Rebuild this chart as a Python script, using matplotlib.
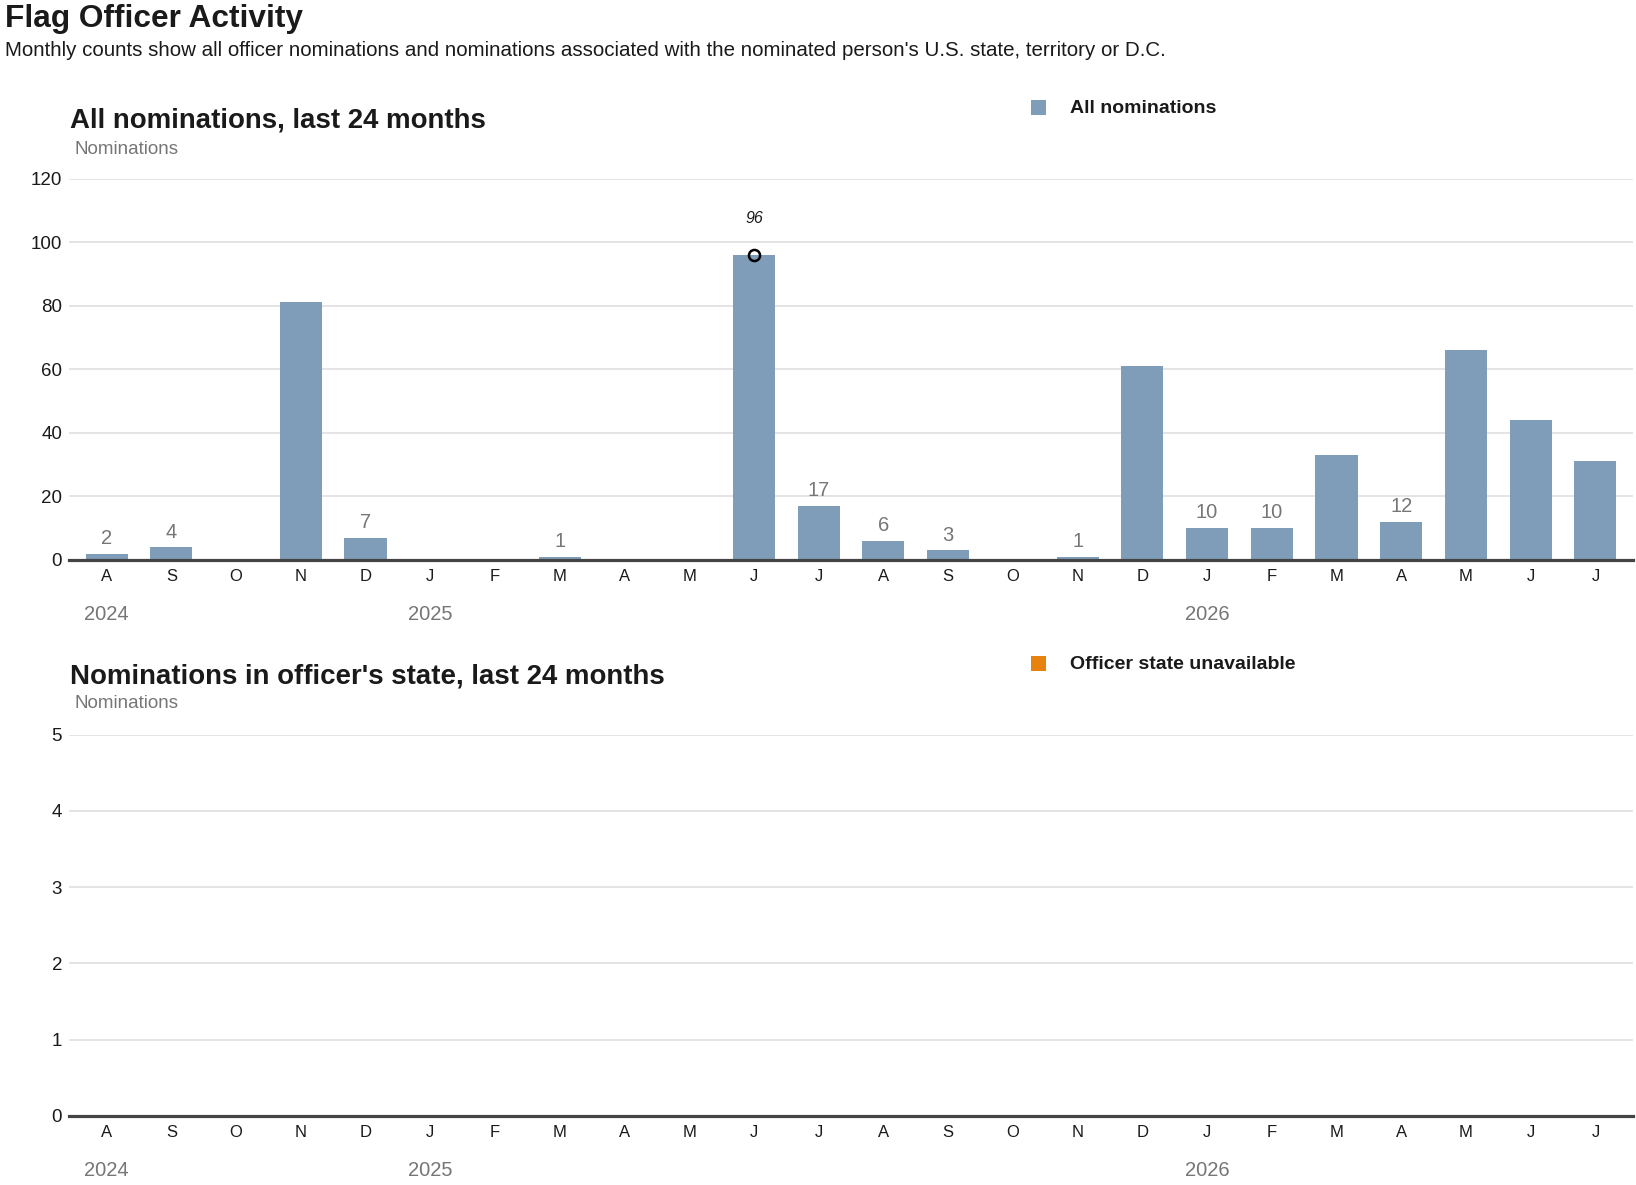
import matplotlib
matplotlib.use("Agg")
import matplotlib.pyplot as plt
from matplotlib.patches import Rectangle
from matplotlib import font_manager as fm

names = {f.name for f in fm.fontManager.ttflist}
NARROW = 'Liberation Sans Narrow' if 'Liberation Sans Narrow' in names else 'Liberation Sans'
REG = 'Liberation Sans'

months = ["A", "S", "O", "N", "D", "J", "F", "M", "A", "M", "J", "J",
          "A", "S", "O", "N", "D", "J", "F", "M", "A", "M", "J", "J"]
all_noms = [2, 4, 0, 81, 7, 0, 0, 1, 0, 0, 96, 17,
            6, 3, 0, 1, 61, 10, 10, 33, 12, 66, 44, 31]
state_noms = [0] * 24
year_labels = ["2024", "2025", "2026"]
year_pos = [0, 5, 17]
top_ticks = [0, 20, 40, 60, 80, 100, 120]
bot_ticks = [0, 1, 2, 3, 4, 5]

W, H = 1636, 1185
DPI = 100
fig = plt.figure(figsize=(W / DPI, H / DPI), dpi=DPI)

BAR = "#7f9db9"
ORANGE = "#e8820e"
GRID = "#dddddd"
AXIS = "#444444"
DARK = "#1a1a1a"
GRAY = "#767676"


def fx(x):
    return x / W


def fy(y):
    return 1 - y / H


def add_axes(top, bottom):
    return fig.add_axes([fx(69), fy(bottom), (1633 - 69) / W, (bottom - top) / H])


def style(ax, ticks, ylim):
    ax.set_xlim(-0.58, 23.58)
    ax.set_ylim(*ylim)
    ax.set_yticks(ticks)
    ax.set_yticklabels([str(t) for t in ticks], family=REG, fontsize=13.5, color=DARK)
    ax.set_xticks(range(24))
    ax.set_xticklabels(months, family=NARROW, fontsize=12, color=DARK)
    ax.tick_params(axis="y", length=0, pad=5)
    ax.tick_params(axis="x", length=0, pad=6.5)
    for s in ax.spines.values():
        s.set_visible(False)
    ax.grid(axis="y", color=GRID, linewidth=1.1)
    ax.set_axisbelow(True)
    ax.axhline(0, color=AXIS, linewidth=2.3, zorder=5, clip_on=False)
    for lab, p in zip(year_labels, year_pos):
        ax.annotate(lab, xy=(p, 0), xycoords=("data", "axes fraction"),
                    xytext=(0, -39.5), textcoords="offset points",
                    ha="center", va="center", family=REG, fontsize=14.5, color=GRAY)


# Top panel
ax1 = add_axes(178.5, 560)
style(ax1, top_ticks, (0, 120))
x = list(range(24))
ax1.bar(x, all_noms, width=0.65, color=BAR, zorder=3)
imax = all_noms.index(max(all_noms))
for i, v in enumerate(all_noms):
    if 0 < v < 20:
        ax1.annotate(str(v), xy=(i, v), xytext=(0, 7), textcoords="offset points",
                     ha="center", va="baseline", family=REG, fontsize=14.5, color=GRAY)
ax1.plot([imax], [all_noms[imax]], marker="o", markersize=8, markerfacecolor="none",
         markeredgecolor="black", markeredgewidth=1.8, zorder=6, clip_on=False)
ax1.annotate(str(all_noms[imax]), xy=(imax, all_noms[imax]), xytext=(0, 26),
             textcoords="offset points", ha="center", va="center",
             family=NARROW, fontsize=11.5, style="italic", color=DARK)

# Bottom panel
ax2 = add_axes(734.5, 1116)
style(ax2, bot_ticks, (0, 5))
ax2.bar(x, state_noms, width=0.65, color=ORANGE, zorder=3)

# Titles and texts
fig.text(fx(5), fy(19), "Flag Officer Activity", family=NARROW, weight="bold",
         fontsize=22.8, color=DARK, ha="left", va="center")
fig.text(fx(5), fy(51), "Monthly counts show all officer nominations and nominations associated with the nominated person's U.S. state, territory or D.C.",
         family=NARROW, fontsize=14.75, color=DARK, ha="left", va="center")

fig.text(fx(70), fy(121), "All nominations, last 24 months", family=NARROW, weight="bold",
         fontsize=19.9, color=DARK, ha="left", va="center")
fig.text(fx(74), fy(149), "Nominations", family=REG, fontsize=13.5, color=GRAY,
         ha="left", va="center")
fig.text(fx(70), fy(676), "Nominations in officer's state, last 24 months", family=NARROW,
         weight="bold", fontsize=19.9, color=DARK, ha="left", va="center")
fig.text(fx(74), fy(704), "Nominations", family=REG, fontsize=13.5, color=GRAY,
         ha="left", va="center")

# Legends
for yc, col, lab in [(107.5, BAR, "All nominations"), (663.5, ORANGE, "Officer state unavailable")]:
    fig.add_artist(Rectangle((fx(1031), fy(yc + 7.5)), 15 / W, 15 / H,
                             transform=fig.transFigure, color=col, lw=0))
    fig.text(fx(1070), fy(yc + 1), lab, family=NARROW, weight="bold", fontsize=14,
             color=DARK, ha="left", va="center")

fig.savefig("out.png", dpi=DPI)
